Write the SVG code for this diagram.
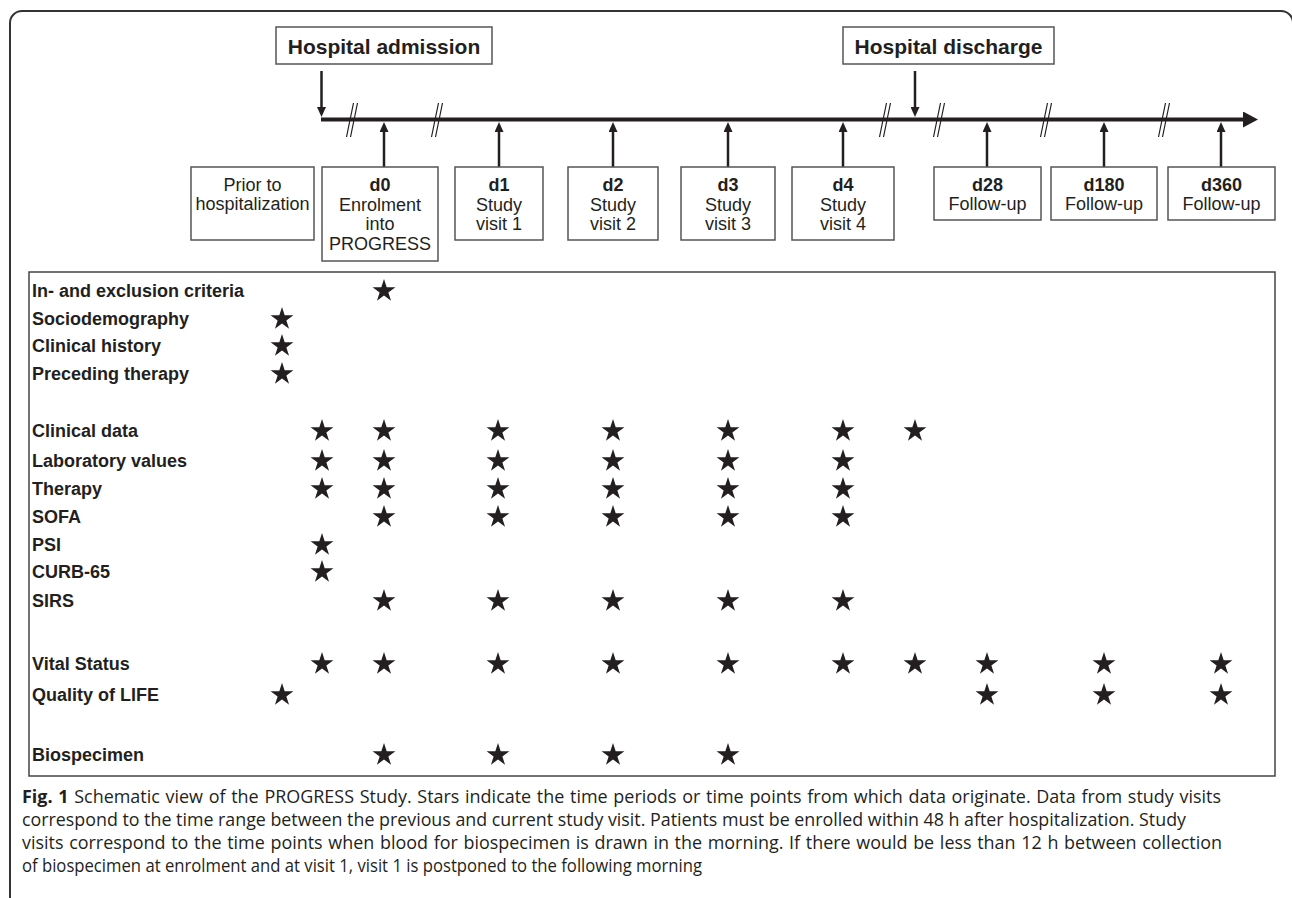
<svg xmlns="http://www.w3.org/2000/svg" xmlns:xlink="http://www.w3.org/1999/xlink" width="1292" height="898" viewBox="0 0 1292 898">
<style>
.frame{fill:none;stroke:#333;stroke-width:2}
.box{fill:#fff;stroke:#555;stroke-width:1.5}
.tbl{fill:#fff;stroke:#444;stroke-width:1.5}
.head{font-family:"Liberation Sans",Arial,sans-serif;font-size:21px;font-weight:bold;fill:#231f20;text-anchor:middle}
.bt{font-family:"Liberation Sans",Arial,sans-serif;font-size:18px;fill:#231f20;text-anchor:middle}
.bt .b{font-weight:bold}
.lab{font-family:"Liberation Sans",Arial,sans-serif;font-size:18px;font-weight:bold;fill:#231f20}
.cap{font-family:"Open Sans","Noto Sans",sans-serif;font-size:17.5px;fill:#231f20}
.tl{stroke:#231f20;stroke-width:4;fill:none}
.arr{stroke:#231f20;stroke-width:2.5;fill:none}
.brk{stroke:#231f20;stroke-width:1.2;fill:none}
.star{fill:#231f20}
</style>
<defs>
<marker id="ah" markerUnits="userSpaceOnUse" markerWidth="10" markerHeight="9" refX="0" refY="4.5" orient="auto">
<path d="M0,0 L10,4.5 L0,9 Z" fill="#231f20"/>
</marker>
<marker id="ahBig" markerUnits="userSpaceOnUse" markerWidth="15" markerHeight="16" refX="0" refY="8" orient="auto">
<path d="M0,0 L15,8 L0,16 Z" fill="#231f20"/>
</marker>
<path id="st" d="M0,-12 L2.70,-3.72 L11.41,-3.71 L4.37,1.42 L7.05,9.71 L0,4.6 L-7.05,9.71 L-4.37,1.42 L-11.41,-3.71 L-2.70,-3.72 Z"/>
</defs>
<rect width="1292" height="898" fill="#fff"/>
<path class="frame" d="M10,898 V23 A12,12 0 0 1 22,11 H1281 A12,12 0 0 1 1293,23"/>

<g id="admission"><rect class="box" x="276" y="27" width="216" height="37"/><text class="head" x="384" y="54">Hospital admission</text></g>
<g id="discharge"><rect class="box" x="843" y="27" width="211" height="37"/><text class="head" x="948.5" y="54">Hospital discharge</text></g>

<g id="connectors">
<line class="tl" x1="321" y1="119.5" x2="1243" y2="119.5" marker-end="url(#ahBig)"/>
<line class="arr" x1="321.5" y1="71" x2="321.5" y2="107" marker-end="url(#ah)"/>
<line class="arr" x1="915" y1="71" x2="915" y2="107" marker-end="url(#ah)"/>
<line class="arr" x1="384" y1="167" x2="384" y2="132" marker-end="url(#ah)"/>
<line class="arr" x1="499" y1="167" x2="499" y2="132" marker-end="url(#ah)"/>
<line class="arr" x1="613" y1="167" x2="613" y2="132" marker-end="url(#ah)"/>
<line class="arr" x1="728" y1="167" x2="728" y2="132" marker-end="url(#ah)"/>
<line class="arr" x1="843" y1="167" x2="843" y2="132" marker-end="url(#ah)"/>
<line class="arr" x1="987" y1="167" x2="987" y2="132" marker-end="url(#ah)"/>
<line class="arr" x1="1104" y1="167" x2="1104" y2="132" marker-end="url(#ah)"/>
<line class="arr" x1="1221" y1="167" x2="1221" y2="132" marker-end="url(#ah)"/>
<g class="brk">
<path d="M353.5,103 L346.5,137 M357.5,103 L350.5,137"/>
<path d="M438.5,103 L431.5,137 M442.5,103 L435.5,137"/>
<path d="M886.5,103 L879.5,137 M890.5,103 L883.5,137"/>
<path d="M940.5,103 L933.5,137 M944.5,103 L937.5,137"/>
<path d="M1047.5,103 L1040.5,137 M1051.5,103 L1044.5,137"/>
<path d="M1165.5,103 L1158.5,137 M1169.5,103 L1162.5,137"/>
</g>
</g>

<g id="prior"><rect class="box" x="191" y="167" width="123" height="73"/><text class="bt"><tspan x="252.5" y="191">Prior to</tspan><tspan x="252.5" y="210">hospitalization</tspan></text></g>
<g id="d0"><rect class="box" x="322" y="167" width="116" height="94"/><text class="bt"><tspan class="b" x="380" y="191">d0</tspan><tspan x="380" y="210.5">Enrolment</tspan><tspan x="380" y="230">into</tspan><tspan x="380" y="249.5">PROGRESS</tspan></text></g>
<g id="d1"><rect class="box" x="455" y="167" width="88" height="73"/><text class="bt"><tspan class="b" x="499" y="191">d1</tspan><tspan x="499" y="210.5">Study</tspan><tspan x="499" y="230">visit 1</tspan></text></g>
<g id="d2"><rect class="box" x="568" y="167" width="90" height="73"/><text class="bt"><tspan class="b" x="613" y="191">d2</tspan><tspan x="613" y="210.5">Study</tspan><tspan x="613" y="230">visit 2</tspan></text></g>
<g id="d3"><rect class="box" x="681" y="167" width="94" height="73"/><text class="bt"><tspan class="b" x="728" y="191">d3</tspan><tspan x="728" y="210.5">Study</tspan><tspan x="728" y="230">visit 3</tspan></text></g>
<g id="d4"><rect class="box" x="792" y="167" width="102" height="73"/><text class="bt"><tspan class="b" x="843" y="191">d4</tspan><tspan x="843" y="210.5">Study</tspan><tspan x="843" y="230">visit 4</tspan></text></g>
<g id="d28"><rect class="box" x="934" y="167" width="107" height="53"/><text class="bt"><tspan class="b" x="987.5" y="191">d28</tspan><tspan x="987.5" y="210">Follow-up</tspan></text></g>
<g id="d180"><rect class="box" x="1051" y="167" width="106" height="53"/><text class="bt"><tspan class="b" x="1104" y="191">d180</tspan><tspan x="1104" y="210">Follow-up</tspan></text></g>
<g id="d360"><rect class="box" x="1168" y="167" width="107" height="53"/><text class="bt"><tspan class="b" x="1221.5" y="191">d360</tspan><tspan x="1221.5" y="210">Follow-up</tspan></text></g>

<g id="table">
<rect class="tbl" x="29" y="272" width="1246" height="504"/>
<g class="lab">
<text x="32" y="297">In- and exclusion criteria</text>
<text x="32" y="325">Sociodemography</text>
<text x="32" y="352">Clinical history</text>
<text x="32" y="380">Preceding therapy</text>
<text x="32" y="437">Clinical data</text>
<text x="32" y="467">Laboratory values</text>
<text x="32" y="495">Therapy</text>
<text x="32" y="523">SOFA</text>
<text x="32" y="551">PSI</text>
<text x="32" y="578">CURB-65</text>
<text x="32" y="607">SIRS</text>
<text x="32" y="670">Vital Status</text>
<text x="32" y="701">Quality of LIFE</text>
<text x="32" y="761">Biospecimen</text>
</g>
<g class="star">
<use xlink:href="#st" x="384" y="291"/>
<use xlink:href="#st" x="282" y="319"/>
<use xlink:href="#st" x="282" y="346"/>
<use xlink:href="#st" x="282" y="374"/>
<use xlink:href="#st" x="322" y="431"/><use xlink:href="#st" x="384" y="431"/><use xlink:href="#st" x="498" y="431"/><use xlink:href="#st" x="613" y="431"/><use xlink:href="#st" x="728" y="431"/><use xlink:href="#st" x="843" y="431"/><use xlink:href="#st" x="915" y="431"/>
<use xlink:href="#st" x="322" y="461"/><use xlink:href="#st" x="384" y="461"/><use xlink:href="#st" x="498" y="461"/><use xlink:href="#st" x="613" y="461"/><use xlink:href="#st" x="728" y="461"/><use xlink:href="#st" x="843" y="461"/>
<use xlink:href="#st" x="322" y="489"/><use xlink:href="#st" x="384" y="489"/><use xlink:href="#st" x="498" y="489"/><use xlink:href="#st" x="613" y="489"/><use xlink:href="#st" x="728" y="489"/><use xlink:href="#st" x="843" y="489"/>
<use xlink:href="#st" x="384" y="517"/><use xlink:href="#st" x="498" y="517"/><use xlink:href="#st" x="613" y="517"/><use xlink:href="#st" x="728" y="517"/><use xlink:href="#st" x="843" y="517"/>
<use xlink:href="#st" x="322" y="545"/>
<use xlink:href="#st" x="322" y="572"/>
<use xlink:href="#st" x="384" y="601"/><use xlink:href="#st" x="498" y="601"/><use xlink:href="#st" x="613" y="601"/><use xlink:href="#st" x="728" y="601"/><use xlink:href="#st" x="843" y="601"/>
<use xlink:href="#st" x="322" y="664"/><use xlink:href="#st" x="384" y="664"/><use xlink:href="#st" x="498" y="664"/><use xlink:href="#st" x="613" y="664"/><use xlink:href="#st" x="728" y="664"/><use xlink:href="#st" x="843" y="664"/><use xlink:href="#st" x="915" y="664"/><use xlink:href="#st" x="987" y="664"/><use xlink:href="#st" x="1104" y="664"/><use xlink:href="#st" x="1221" y="664"/>
<use xlink:href="#st" x="282" y="695"/><use xlink:href="#st" x="987" y="695"/><use xlink:href="#st" x="1104" y="695"/><use xlink:href="#st" x="1221" y="695"/>
<use xlink:href="#st" x="384" y="755"/><use xlink:href="#st" x="498" y="755"/><use xlink:href="#st" x="613" y="755"/><use xlink:href="#st" x="728" y="755"/>
</g>
</g>

<g id="caption" class="cap">
<text x="22" y="803" word-spacing="1" textLength="1199" lengthAdjust="spacingAndGlyphs"><tspan font-weight="bold">Fig. 1</tspan> Schematic view of the PROGRESS Study. Stars indicate the time periods or time points from which data originate. Data from study visits</text>
<text x="22" y="826" textLength="1164" lengthAdjust="spacingAndGlyphs">correspond to the time range between the previous and current study visit. Patients must be enrolled within 48 h after hospitalization. Study</text>
<text x="22" y="849" word-spacing="1" textLength="1200" lengthAdjust="spacingAndGlyphs">visits correspond to the time points when blood for biospecimen is drawn in the morning. If there would be less than 12 h between collection</text>
<text x="22" y="872" textLength="680" lengthAdjust="spacingAndGlyphs">of biospecimen at enrolment and at visit 1, visit 1 is postponed to the following morning</text>
</g>
</svg>
